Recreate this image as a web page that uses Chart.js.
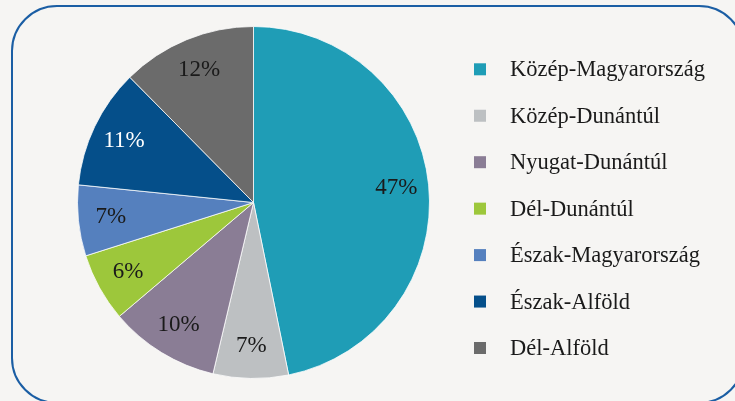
<!DOCTYPE html>
<html lang="hu">
<head>
  <meta charset="UTF-8">
  <title>Régiók megoszlása</title>
  <script src="https://cdn.jsdelivr.net/npm/chart.js"></script>
  <style>
    html, body {
      margin: 0;
      padding: 0;
      width: 735px;
      height: 401px;
      overflow: hidden;
      background: #f6f5f3;
    }
    .frame {
      position: absolute;
      left: 11px;
      top: 5px;
      width: 730px;
      height: 395px;
      border: 2px solid #1b5ea4;
      border-radius: 46px;
    }
    #pieChart {
      position: absolute;
      left: 0;
      top: 0;
    }
  </style>
</head>
<body>
  <div class="frame"></div>
  <canvas id="pieChart" width="735" height="401"></canvas>

  <script>
    // regions and their share (%)
    const regions = ['Közép-Magyarország', 'Közép-Dunántúl', 'Nyugat-Dunántúl', 'Dél-Dunántúl',
                     'Észak-Magyarország', 'Észak-Alföld', 'Dél-Alföld'];
    const shares = [46.8, 6.9, 10.1, 6.3, 6.5, 11.0, 12.4];
    const sliceColors = ['#1f9db6', '#bdc0c2', '#8a7d95', '#9dc73b', '#5580be', '#054f8a', '#6b6b6b'];
    const labelColors = ['#1a1a1a', '#1a1a1a', '#1a1a1a', '#1a1a1a', '#1a1a1a', '#ffffff', '#1a1a1a'];

    const serif = '"Liberation Serif", "Times New Roman", serif';

    // percentage labels inside the slices
    const sliceLabels = {
      id: 'sliceLabels',
      afterDatasetsDraw(chart) {
        const ctx = chart.ctx;
        const data = chart.data.datasets[0].data;
        const total = data.reduce((a, b) => a + b, 0);
        ctx.save();
        ctx.font = '23px ' + serif;
        ctx.textAlign = 'center';
        ctx.textBaseline = 'middle';
        chart.getDatasetMeta(0).data.forEach((arc, i) => {
          const p = arc.getProps(['x', 'y', 'startAngle', 'endAngle', 'outerRadius'], true);
          const mid = (p.startAngle + p.endAngle) / 2;
          const r = p.outerRadius * 0.815;
          ctx.fillStyle = labelColors[i];
          ctx.fillText(Math.round(data[i] / total * 100) + '%', p.x + Math.cos(mid) * r, p.y + Math.sin(mid) * r);
        });
        ctx.restore();
      }
    };

    // legend on the right, square marker + name
    const sideLegend = {
      id: 'sideLegend',
      afterDraw(chart) {
        const ctx = chart.ctx;
        const colors = chart.data.datasets[0].backgroundColor;
        ctx.save();
        ctx.font = '22.5px ' + serif;
        ctx.textAlign = 'left';
        ctx.textBaseline = 'alphabetic';
        chart.data.labels.forEach((name, i) => {
          const y = 69.3 + i * 46.45;
          ctx.fillStyle = colors[i];
          ctx.fillRect(474, y - 6, 12, 12);
          ctx.fillStyle = '#1a1a1a';
          ctx.fillText(name, 510, y + 7);
        });
        ctx.restore();
      }
    };

    const ctx = document.getElementById('pieChart').getContext('2d');
    new Chart(ctx, {
      type: 'pie',
      data: {
        labels: regions,
        datasets: [{
          data: shares,
          backgroundColor: sliceColors,
          borderColor: 'rgba(255,255,255,0.75)',
          borderWidth: 1
        }]
      },
      options: {
        responsive: false,
        animation: false,
        layout: {
          padding: { left: 77, top: 26, right: 305, bottom: 22 }
        },
        plugins: {
          legend: { display: false },
          tooltip: { enabled: false }
        }
      },
      plugins: [sliceLabels, sideLegend]
    });
  </script>
</body>
</html>
